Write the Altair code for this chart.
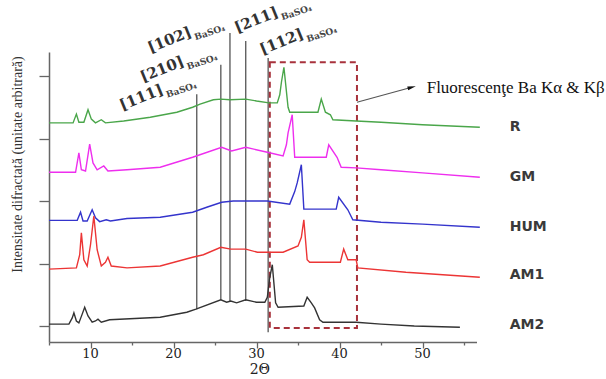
import altair as alt
import pandas as pd

# ---------------- data ----------------
series_names = ["R", "GM", "HUM", "AM1", "AM2"]
series_colors = ["#4aa64a", "#ee2eee", "#3434cc", "#ec3535", "#333333"]

r_x = [5.0, 7.9, 8.3, 8.6, 9.2, 9.7, 10.1, 10.6, 11.3, 11.8, 14.0, 17.2, 20.4, 22.3, 23.2, 24.8, 25.7,
       26.8, 28.7, 30.0, 31.5, 32.5, 32.8, 33.0, 33.3, 33.8, 34.0, 37.4, 37.8, 38.3, 38.9, 39.2, 42.0,
       45.0, 50.0, 56.9]
r_y = [325, 325, 339, 326, 326, 346, 331, 325, 330, 325, 328, 334, 342, 350, 355, 362, 363,
       362, 363, 360, 357, 357, 370, 390, 414, 350, 342, 342, 363, 342, 338, 330, 328,
       326, 322, 318]

gm_x = [5.0, 8.2, 8.6, 8.9, 9.4, 9.9, 10.3, 10.8, 11.6, 12.1, 14.4, 18.4, 22.3, 25.8, 27.0, 28.7, 31.3,
        33.2, 33.6, 33.8, 34.3, 34.6, 38.4, 38.7, 39.7, 40.2, 42.0, 45.0, 50.0, 56.9]
gm_y = [246, 246, 277, 250, 248, 291, 261, 250, 256, 248, 250, 254, 270, 286, 280, 286, 278,
        272, 290, 309, 338, 270, 270, 290, 270, 254, 253, 250, 245, 238]

hum_x = [5.0, 8.4, 8.8, 9.1, 9.6, 10.2, 10.6, 11.1, 11.9, 12.4, 14.4, 18.4, 22.3, 24.0, 25.8, 27.2, 28.7,
         31.3, 34.0, 34.6, 34.9, 35.4, 35.7, 39.6, 39.9, 41.0, 41.6, 45.0, 50.0, 56.9]
hum_y = [169, 169, 182, 168, 168, 186, 173, 167, 170, 168, 172, 174, 182, 190, 198, 200, 200,
         200, 195, 215, 229, 258, 187, 187, 206, 186, 170, 166, 163, 158]

am1_x = [5.0, 8.3, 8.7, 8.9, 9.2, 9.6, 10.0, 10.4, 10.8, 11.3, 11.8, 12.1, 12.5, 14.4, 18.4, 22.3, 23.6,
         25.7, 26.9, 28.7, 30.1, 31.3, 33.2, 35.0, 35.4, 35.7, 36.1, 36.4, 40.1, 40.5, 41.0, 42.0, 42.2,
         48.0, 56.9]
am1_y = [91, 93, 114, 149, 106, 96, 130, 176, 122, 96, 102, 110, 96, 93, 96, 110, 114,
         126, 123, 123, 118, 118, 118, 128, 142, 170, 106, 102, 102, 123, 106, 106, 93,
         86, 78]

am2_x = [5.0, 7.4, 7.8, 8.0, 8.3, 8.6, 9.0, 9.3, 9.7, 10.2, 10.6, 10.9, 11.3, 12.3, 18.4, 21.6, 22.7,
         25.7, 26.4, 26.9, 27.6, 28.7, 30.0, 31.0, 31.3, 31.6, 31.9, 32.3, 32.6, 35.7, 36.1, 36.6, 37.0,
         37.6, 38.0, 42.0, 45.0, 49.0, 54.5]
am2_y = [3, 3, 13, 21, 8, 5, 19, 30, 16, 6, 8, 11, 6, 10, 14, 22, 27,
         42, 38, 40, 37, 42, 38, 38, 46, 78, 98, 37, 30, 32, 46, 37, 29,
         10, 6, 6, 3, 0, -2]

# BaSO4 reflections (vertical marker lines)
ref_hkl = ["[111]", "[210]", "[102]", "[211]", "[112]"]
ref_pos = [22.8, 25.7, 26.8, 28.7, 31.4]
ref_top = [371, 418, 469, 456, 429]
ref_bottom = [27, 42, 40, 40, -10]
label_x = [13.8, 16.3, 17.2, 27.65, 30.7]
label_y = [345, 390, 437, 469, 434]

# Fluorescence region box
box_x = [31.6, 42.1]
box_y = [-3, 422]

# series labels on the right
end_label_x = 60.5
end_label_y = [318, 238, 158, 82, 2]

annot_text = "Fluorescenţe Ba Kα & Kβ"
arrow_x = [42.1, 48.7]
arrow_y = [358, 382]
annot_x = 50.5
annot_y = 381

x_title = "2Θ"
x_title_pos = [30.4, -70]

x_ticks = [5, 10, 15, 20, 25, 30, 35, 40, 45, 50, 55]
x_tick_labels = [10, 20, 30, 40, 50]
x_tick_label_y = -44
y_ticks = [0, 100, 200, 300, 400]

# ---------------- frames ----------------
rows = []
for name, xs_, ys_ in zip(series_names,
                          [r_x, gm_x, hum_x, am1_x, am2_x],
                          [r_y, gm_y, hum_y, am1_y, am2_y]):
    for a, b in zip(xs_, ys_):
        rows.append({"x": a, "y": b, "series": name})
curves = pd.DataFrame(rows)

refs = pd.DataFrame({"x": ref_pos, "y": ref_bottom, "y2": ref_top})
labels = pd.DataFrame({"x": label_x, "y": label_y, "hkl": ref_hkl, "sub": ["BaSO₄"] * 5})
box = pd.DataFrame({"x": [box_x[0]], "x2": [box_x[1]], "y": [box_y[0]], "y2": [box_y[1]]})
ends = pd.DataFrame({"x": [end_label_x] * 5, "y": end_label_y, "name": series_names})
arrow = pd.DataFrame({"x": arrow_x, "y": arrow_y})
arrow_head = pd.DataFrame({"x": [arrow_x[1]], "y": [arrow_y[1]]})
annot = pd.DataFrame({"x": [annot_x], "y": [annot_y], "t": [annot_text]})
xtitle_df = pd.DataFrame({"x": [x_title_pos[0]], "y": [x_title_pos[1]], "t": [x_title]})
xlab_df = pd.DataFrame({"x": x_tick_labels, "y": [x_tick_label_y] * len(x_tick_labels),
                        "t": [str(v) for v in x_tick_labels]})

# ---------------- scales / axes ----------------
xs = alt.Scale(domain=[5, 56.5], nice=False, zero=False)
ys = alt.Scale(domain=[-25.6, 438.4], nice=False, zero=False)

x_axis = alt.Axis(
    values=x_ticks, grid=False, labels=False,
    tickSize={"condition": {"test": "datum.value % 10 === 0", "value": 6}, "value": 3},
    domainColor="#666", domainWidth=1.5, tickColor="#666", tickWidth=1.3,
    title=None,
)
y_axis = alt.Axis(
    values=y_ticks, grid=False, labels=False, tickSize=10,
    domainColor="#666", domainWidth=1.5, tickColor="#666", tickWidth=1.3,
    title="Intensitate difractată (unitate arbitrară)", titleFont="Liberation Serif",
    titleFontSize=14, titleFontWeight="normal", titleColor="#333", titleAngle=270,
    titleX=-32, titleY=112, titleAlign="center", titleBaseline="middle",
)


def X(field="x"):
    return alt.X(f"{field}:Q", scale=xs, axis=x_axis)


def Y(field="y"):
    return alt.Y(f"{field}:Q", scale=ys, axis=y_axis)


lines = alt.Chart(curves).mark_line(strokeWidth=1.4).encode(
    x=X(), y=Y(),
    color=alt.Color("series:N", scale=alt.Scale(domain=series_names, range=series_colors), legend=None),
    detail="series:N",
)

rules = alt.Chart(refs).mark_rule(color="#555", strokeWidth=1.3).encode(
    x=X(), y=Y(), y2="y2:Q"
)

rect = alt.Chart(box).mark_rect(filled=False, stroke="#a8323c", strokeWidth=2,
                                strokeDash=[6, 4]).encode(
    x=X(), x2="x2:Q", y=Y(), y2="y2:Q"
)

hkl_text = alt.Chart(labels).mark_text(
    angle=338, align="left", baseline="alphabetic", font="DejaVu Serif",
    fontSize=15, fontWeight="bold", color="#333"
).encode(x=X(), y=Y(), text="hkl:N")

sub_text = alt.Chart(labels).mark_text(
    angle=342, align="left", baseline="alphabetic", font="DejaVu Serif",
    fontSize=9, fontWeight="bold", color="#444", dx=47, dy=2
).encode(x=X(), y=Y(), text="sub:N")

end_text = alt.Chart(ends).mark_text(
    align="left", baseline="middle", font="DejaVu Sans", fontSize=14,
    fontWeight="bold", color="#3a3a3a"
).encode(x=X(), y=Y(), text="name:N")

arrow_line = alt.Chart(arrow).mark_line(color="#555", strokeWidth=1.2).encode(x=X(), y=Y())
arrow_tip = alt.Chart(arrow_head).mark_point(
    shape="M-1,-0.45L1,0L-1,0.45Z", filled=True, color="#111", size=70, angle=345, opacity=1
).encode(x=X(), y=Y())

annot_text_layer = alt.Chart(annot).mark_text(
    align="left", baseline="middle", font="Liberation Serif", fontSize=17, color="#111"
).encode(x=X(), y=Y(), text="t:N")

xlab_layer = alt.Chart(xlab_df).mark_text(
    align="center", baseline="middle", font="DejaVu Serif", fontSize=13, color="#222"
).encode(x=X(), y=Y(), text="t:N")

xtitle_layer = alt.Chart(xtitle_df).mark_text(
    align="center", baseline="middle", font="DejaVu Serif", fontSize=14, color="#222"
).encode(x=X(), y=Y(), text="t:N")

chart = alt.layer(
    rules, rect, lines, hkl_text, sub_text, end_text, arrow_line, arrow_tip,
    annot_text_layer, xlab_layer, xtitle_layer
).properties(
    width=427.5, height=290,
    autosize=alt.AutoSizeParams(type="none"),
    padding={"left": 49, "top": 52, "right": 129.5, "bottom": 37},
    background="white",
).configure_view(stroke=None)

chart.save("out.html", embed_options={"renderer": "svg", "actions": False})
